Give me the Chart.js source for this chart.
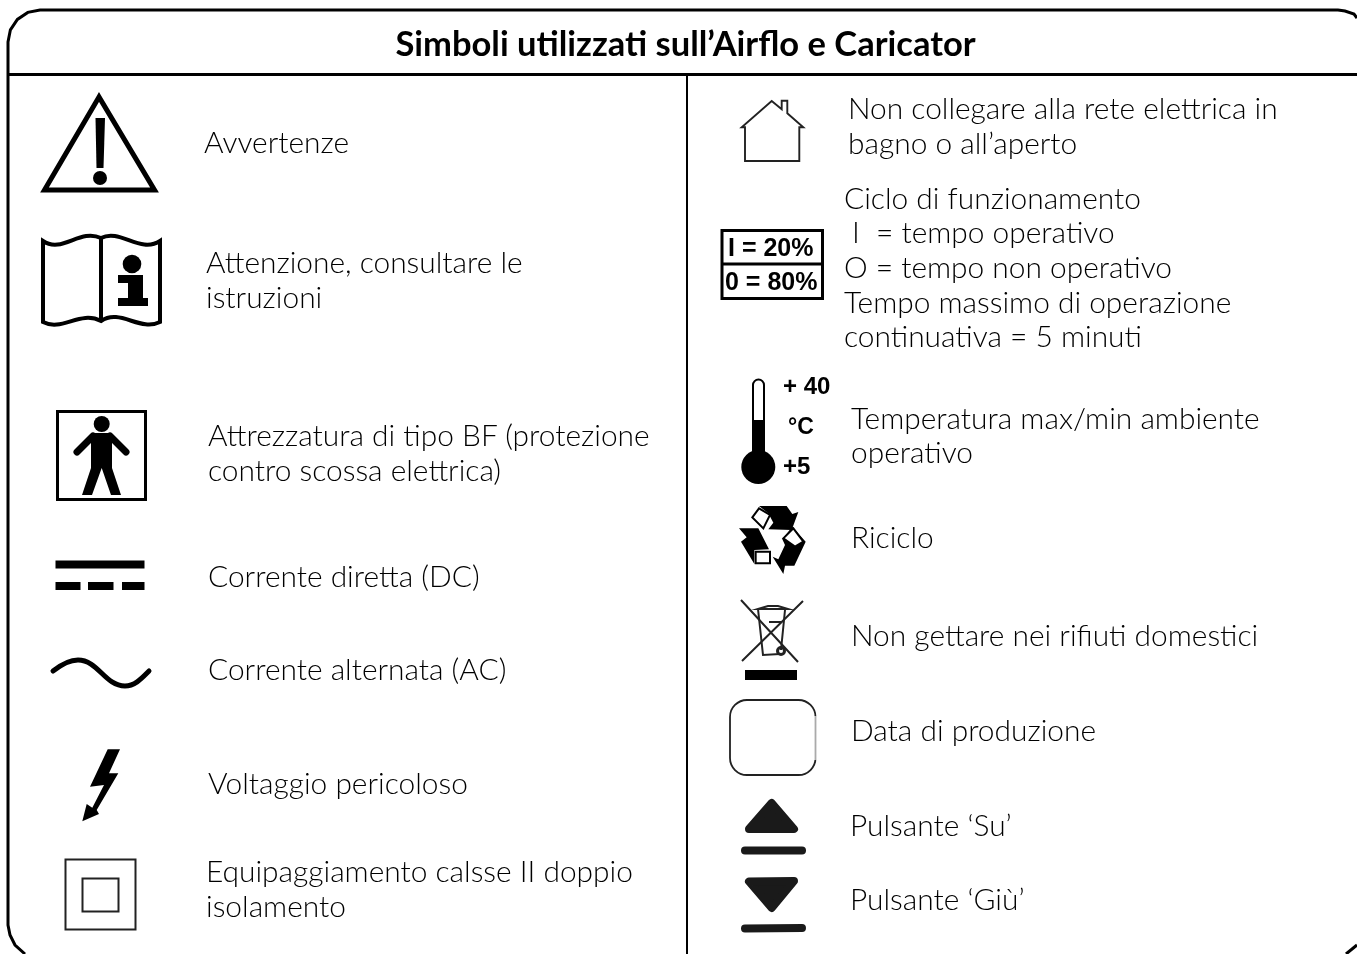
<!DOCTYPE html>
<html>
<head>
<meta charset="utf-8">
<title>Simboli</title>
<script src="https://cdn.jsdelivr.net/npm/chart.js@4"></script>
<style>
  html, body { margin: 0; padding: 0; background: #fff; overflow: hidden; }
  canvas { display: block; }
</style>
</head>
<body>
<canvas id="simboliChart" width="1357" height="954"></canvas>
<script>
// --- Testi ---
const titleLabels = ['Simboli utilizzati sull’Airflo e Caricator'];
const titleX = [685.5];
const titleY = [56];

const bodyLabels = [
  'Avvertenze',
  'Attenzione, consultare le', 'istruzioni',
  'Attrezzatura di tipo BF (protezione', 'contro scossa elettrica)',
  'Corrente diretta (DC)',
  'Corrente alternata (AC)',
  'Voltaggio pericoloso',
  'Equipaggiamento calsse II doppio', 'isolamento',
  'Non collegare alla rete elettrica in', 'bagno o all’aperto',
  'Ciclo di funzionamento', 'I  = tempo operativo', 'O = tempo non operativo',
  'Tempo massimo di operazione', 'continuativa = 5 minuti',
  'Temperatura max/min ambiente', 'operativo',
  'Riciclo',
  'Non gettare nei rifiuti domestici',
  'Data di produzione',
  'Pulsante ‘Su’',
  'Pulsante ‘Giù’'
];
const bodyX = [204, 206, 206, 208, 208, 208, 208, 208, 206, 206, 848, 848, 844, 852, 844, 844, 844, 851, 851, 851, 851, 851, 850, 850];
const bodyY = [153, 273, 308, 446, 481, 587, 680, 794, 882, 917, 119, 154, 209, 243, 278, 313, 347, 429, 463, 548, 646, 741, 836, 910];

const iconLabels = ['I = 20%', '0 = 80%', '+ 40', '°C', '+5'];
const iconLabelX = [728, 725, 783, 788, 783];
const iconLabelY = [256, 290, 394, 434, 474];
const iconLabelSize = [25, 25, 24, 23, 24];

// --- Cornice e divisori ---
const frameX = [1357, 1354, 1345, 1338, 40, 27.8, 17.4, 10.4, 8, 8, 10, 15, 25];
const frameY = [18, 14, 11, 10, 10, 12.4, 19.4, 29.8, 42, 925, 935, 945, 954];
const cornerX = [1346, 1357];
const cornerY = [954, 945];
const headerX = [8, 1357];
const headerY = [74.5, 74.5];
const dividerX = [687, 687];
const dividerY = [74.5, 954];

// --- Centri dei simboli ---
const iconNames = ['warning', 'book', 'person', 'dc', 'ac', 'bolt', 'class2', 'house', 'duty', 'thermo', 'recycle', 'bin', 'date', 'up', 'down'];
const iconX = [100, 101, 102, 100, 101, 101, 101, 772, 772, 758, 772, 772, 773, 772, 772];
const iconY = [143, 280, 456, 575, 672, 785, 894, 131, 264, 428, 544, 642, 737, 826, 904];

function poly(ctx, pts) {
  ctx.beginPath();
  pts.forEach((p, i) => i ? ctx.lineTo(p[0], p[1]) : ctx.moveTo(p[0], p[1]));
  ctx.closePath();
}

// Each symbol is a small canvas used as pointStyle; shapes traced in page pixels
const iconDraw = {
  warning: [130, 110, ctx => {
    ctx.lineWidth = 5;
    ctx.lineJoin = 'miter';
    poly(ctx, [[99, 97], [44.5, 190], [154.5, 190]]);
    ctx.stroke();
    poly(ctx, [[95.5, 118], [105, 118], [103.5, 168], [96.5, 168]]);
    ctx.fill();
    ctx.beginPath();
    ctx.arc(100, 178, 7, 0, Math.PI * 2);
    ctx.fill();
  }],
  book: [130, 100, ctx => {
    ctx.lineWidth = 4;
    ctx.beginPath();
    ctx.moveTo(43, 241);
    ctx.bezierCurveTo(62, 254, 80, 228, 101, 238);
    ctx.bezierCurveTo(120, 228, 140, 254, 160, 241);
    ctx.lineTo(160, 322);
    ctx.bezierCurveTo(140, 332, 120, 308, 101, 321);
    ctx.bezierCurveTo(80, 310, 62, 332, 43, 322);
    ctx.closePath();
    ctx.moveTo(101, 238);
    ctx.lineTo(101, 321);
    ctx.stroke();
    ctx.beginPath();
    ctx.arc(132, 264, 9.3, 0, Math.PI * 2);
    ctx.fill();
    poly(ctx, [[118, 275], [143, 275], [143, 298], [148, 298], [148, 306], [118, 306], [118, 298], [128, 298], [128, 283], [118, 283]]);
    ctx.fill();
  }],
  person: [100, 100, ctx => {
    ctx.lineWidth = 3;
    ctx.strokeRect(57.5, 411.5, 88, 88);
    ctx.beginPath();
    ctx.arc(101.7, 424, 8, 0, Math.PI * 2);
    ctx.fill();
    poly(ctx, [[91, 433], [112, 433], [112, 468], [121, 495], [111, 495], [101.7, 468], [92, 495], [82, 495], [91, 468]]);
    ctx.fill();
    ctx.lineWidth = 7;
    ctx.lineCap = 'round';
    ctx.beginPath();
    ctx.moveTo(93, 436);
    ctx.lineTo(77, 452);
    ctx.moveTo(110, 436);
    ctx.lineTo(126, 452);
    ctx.stroke();
  }],
  dc: [100, 40, ctx => {
    ctx.fillRect(55.5, 560.5, 89, 8);
    ctx.fillRect(55.5, 582, 25, 8);
    ctx.fillRect(88, 582, 25.5, 8);
    ctx.fillRect(122, 582, 22.5, 8);
  }],
  ac: [106, 40, ctx => {
    ctx.lineWidth = 5;
    ctx.lineCap = 'round';
    ctx.beginPath();
    ctx.moveTo(53, 671);
    ctx.bezierCurveTo(62, 664, 69, 660, 78, 660);
    ctx.bezierCurveTo(98, 660, 105, 686, 125, 686);
    ctx.bezierCurveTo(135, 686, 142, 678, 149, 671);
    ctx.stroke();
  }],
  bolt: [50, 80, ctx => {
    poly(ctx, [[107.7, 749.3], [120, 749.3], [109, 773.3], [118.3, 773.3], [96.7, 810], [99, 814], [82.3, 821.3], [86.7, 804], [92.3, 807.7], [104, 785], [90, 786.7]]);
    ctx.fill();
  }],
  class2: [80, 80, ctx => {
    ctx.strokeStyle = '#222';
    ctx.lineWidth = 2;
    ctx.strokeRect(65.5, 859.5, 70, 70);
    ctx.strokeRect(82.5, 878.5, 36, 33);
  }],
  house: [70, 70, ctx => {
    ctx.strokeStyle = '#222';
    ctx.lineWidth = 1.9;
    poly(ctx, [[745, 161], [799.3, 161], [799.3, 127.3], [803.3, 127.3], [787.3, 113.3], [787.3, 100.7], [781.7, 100.7], [781.7, 109.3], [771.7, 101], [741.7, 127.3], [745, 127.3]]);
    ctx.stroke();
  }],
  duty: [110, 76, ctx => {
    ctx.lineWidth = 3;
    ctx.strokeRect(722, 230.5, 100.5, 68);
    ctx.beginPath();
    ctx.moveTo(722, 264);
    ctx.lineTo(822, 264);
    ctx.stroke();
  }],
  thermo: [44, 120, ctx => {
    ctx.lineWidth = 2;
    ctx.beginPath();
    ctx.moveTo(753, 455);
    ctx.lineTo(753, 385);
    ctx.arc(758.5, 385, 5.5, Math.PI, 0);
    ctx.lineTo(764, 455);
    ctx.stroke();
    ctx.fillRect(752, 420, 13, 40);
    ctx.beginPath();
    ctx.arc(758.3, 467, 17, 0, Math.PI * 2);
    ctx.fill();
  }],
  recycle: [72, 84, ctx => {
    // coordinates taken from the enlarged crop
    ctx.translate(735, 500);
    ctx.scale(1 / 3, 1 / 3);
    ctx.lineWidth = 6;
    poly(ctx, [[72, 18], [155, 18], [172, 42], [190, 36], [170, 90], [100, 88], [115, 68], [100, 40]]);
    ctx.fill();
    poly(ctx, [[12, 85], [70, 85], [102, 148], [58, 150], [58, 192], [18, 125], [35, 112]]);
    ctx.fill();
    poly(ctx, [[172, 80], [212, 125], [178, 197], [150, 197], [145, 222], [113, 170], [130, 178], [150, 135], [142, 118]]);
    ctx.fill();
    ctx.fillStyle = '#fff';
    poly(ctx, [[52, 52], [72, 25], [105, 45], [85, 85]]);
    ctx.fill();
    ctx.stroke();
    poly(ctx, [[62, 155], [105, 155], [105, 190], [62, 190]]);
    ctx.fill();
    ctx.stroke();
    poly(ctx, [[145, 115], [175, 85], [205, 125], [180, 140]]);
    ctx.fill();
    ctx.stroke();
  }],
  bin: [72, 88, ctx => {
    ctx.strokeStyle = '#222';
    ctx.lineWidth = 2;
    ctx.beginPath();
    ctx.moveTo(741, 600);
    ctx.lineTo(798, 662);
    ctx.moveTo(803, 601);
    ctx.lineTo(742, 661);
    ctx.stroke();
    ctx.lineWidth = 2;
    ctx.beginPath();
    ctx.moveTo(758, 609);
    ctx.lineTo(763, 655);
    ctx.lineTo(780, 654);
    ctx.moveTo(785, 610);
    ctx.lineTo(781, 650);
    ctx.moveTo(758, 609);
    ctx.lineTo(768, 606);
    ctx.lineTo(778, 606);
    ctx.lineTo(788, 609);
    ctx.closePath();
    ctx.moveTo(769, 622);
    ctx.lineTo(781, 622);
    ctx.stroke();
    ctx.lineWidth = 3;
    ctx.beginPath();
    ctx.arc(781, 651, 3.5, 0, Math.PI * 2);
    ctx.stroke();
    ctx.fillStyle = '#000';
    ctx.fillRect(745, 670, 52, 10);
  }],
  date: [96, 84, ctx => {
    ctx.strokeStyle = '#222';
    ctx.lineWidth = 1.8;
    ctx.beginPath();
    ctx.roundRect(730, 700, 85.5, 75, 17);
    ctx.stroke();
    // the right edge is cut and paler in the reference
    ctx.clearRect(814, 716, 4, 44);
    ctx.strokeStyle = '#aaa';
    ctx.beginPath();
    ctx.moveTo(815.5, 716);
    ctx.lineTo(815.5, 760);
    ctx.stroke();
  }],
  up: [72, 64, ctx => {
    ctx.fillStyle = ctx.strokeStyle = '#1a1a1a';
    ctx.lineWidth = 8;
    ctx.lineJoin = 'round';
    ctx.lineCap = 'round';
    poly(ctx, [[771.7, 803], [794, 829], [749, 829]]);
    ctx.fill();
    ctx.stroke();
    ctx.beginPath();
    ctx.moveTo(745, 850.5);
    ctx.lineTo(802, 850.5);
    ctx.stroke();
  }],
  down: [72, 64, ctx => {
    ctx.fillStyle = ctx.strokeStyle = '#1a1a1a';
    ctx.lineWidth = 8;
    ctx.lineJoin = 'round';
    ctx.lineCap = 'round';
    poly(ctx, [[749, 881.5], [794, 881], [771.7, 908]]);
    ctx.fill();
    ctx.stroke();
    ctx.beginPath();
    ctx.moveTo(745, 928.5);
    ctx.lineTo(802, 928);
    ctx.stroke();
  }]
};

function makeIcon(name, i) {
  const [w, h, draw] = iconDraw[name];
  const c = document.createElement('canvas');
  c.width = w;
  c.height = h;
  const ctx = c.getContext('2d');
  ctx.translate(w / 2 - iconX[i], h / 2 - iconY[i]);
  ctx.fillStyle = '#000';
  ctx.strokeStyle = '#000';
  draw(ctx);
  return c;
}

const toPoints = (xs, ys) => xs.map((x, i) => ({ x: x, y: ys[i] }));

const lineDataset = (xs, ys, width) => ({
  type: 'line',
  data: toPoints(xs, ys),
  borderColor: '#000',
  borderWidth: width,
  pointRadius: 0,
  fill: false,
  tension: 0
});

// Writes the labels of a dataset at the positions given by the scales
const textPlugin = {
  id: 'textPlugin',
  afterDatasetsDraw(chart) {
    const ctx = chart.ctx;
    chart.data.datasets.forEach((ds, d) => {
      if (!ds.labels) return;
      chart.getDatasetMeta(d).data.forEach((el, i) => {
        ctx.save();
        ctx.font = ds.fontFor(i);
        ctx.fillStyle = '#000';
        ctx.textAlign = ds.align;
        ctx.textBaseline = 'alphabetic';
        ctx.fontKerning = 'normal';
        ctx.fillText(ds.labels[i], el.x, el.y);
        ctx.restore();
      });
    });
  }
};

new Chart(document.getElementById('simboliChart'), {
  type: 'scatter',
  data: {
    datasets: [
      lineDataset(frameX, frameY, 3),
      lineDataset(cornerX, cornerY, 3),
      lineDataset(headerX, headerY, 3),
      lineDataset(dividerX, dividerY, 2),
      {
        data: toPoints(iconX, iconY),
        pointStyle: iconNames.map(makeIcon),
        pointRadius: 1
      },
      {
        data: toPoints(titleX, titleY),
        pointRadius: 0,
        labels: titleLabels,
        align: 'center',
        fontFor: () => 'bold 34.5px Lato'
      },
      {
        data: toPoints(bodyX, bodyY),
        pointRadius: 0,
        labels: bodyLabels,
        align: 'left',
        fontFor: () => '300 29.9px Lato'
      },
      {
        data: toPoints(iconLabelX, iconLabelY),
        pointRadius: 0,
        labels: iconLabels,
        align: 'left',
        fontFor: i => 'bold ' + iconLabelSize[i] + 'px "Liberation Sans"'
      }
    ]
  },
  options: {
    responsive: false,
    animation: false,
    layout: { padding: 0, autoPadding: false },
    plugins: {
      legend: { display: false },
      tooltip: { enabled: false }
    },
    scales: {
      x: { type: 'linear', min: 0, max: 1357, display: false },
      y: { type: 'linear', min: 0, max: 954, reverse: true, display: false }
    }
  },
  plugins: [textPlugin]
});
</script>
</body>
</html>
